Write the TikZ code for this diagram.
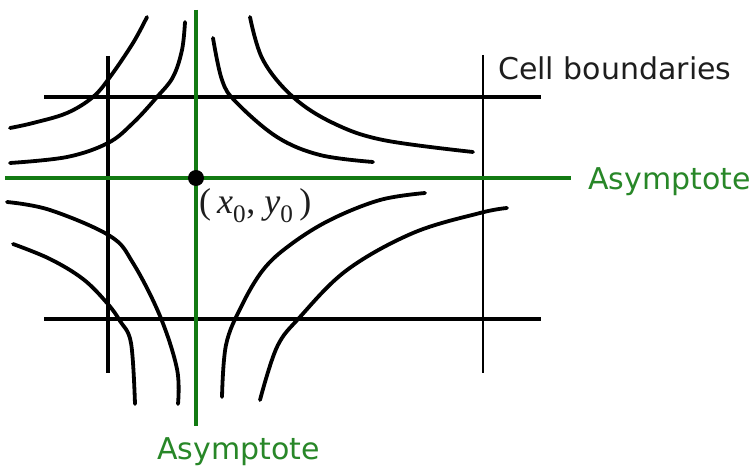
\documentclass[tikz,border=0pt]{standalone}
\usepackage{fontspec}
\newfontfamily\labelfont{DejaVu Sans}
\newfontfamily\seriffont{Liberation Serif}
\definecolor{asymgreen}{RGB}{18,122,18}
\definecolor{textgreen}{RGB}{40,135,40}
\definecolor{txtgray}{RGB}{30,30,30}
\begin{document}
\begin{tikzpicture}[x=1pt,y=-1pt,
  cellline/.style={line width=4.2pt, black},
  thincell/.style={line width=1.8pt, black},
  asym/.style={line width=4.4pt, asymgreen},
  hyp/.style={line width=3.8pt, black, line join=round, line cap=round},
  lbl/.style={inner sep=0pt, font=\labelfont\fontsize{30}{36}\selectfont},
]
\useasboundingbox (0,0) rectangle (756,473);
\fill[white] (0,0) rectangle (756,473);

% cell boundaries
\coordinate (h1w) at (44,97);  \coordinate (h1e) at (541,97);
\coordinate (h2w) at (44,319); \coordinate (h2e) at (541,319);
\coordinate (v1n) at (108,56); \coordinate (v1s) at (108,373);
\coordinate (v2n) at (483,55); \coordinate (v2s) at (483,373);
\draw[cellline] (h1w) -- (h1e);
\draw[cellline] (h2w) -- (h2e);
\draw[line width=3.6pt] (v1n) -- (v1s);
\draw[thincell] (v2n) -- (v2s);

% hyperbola branches
\draw[hyp] plot[smooth, tension=0.6] coordinates {(147,17) (133,43) (110,77) (93,97) (67,113) (33,123) (10,128)};
\draw[hyp] plot[smooth, tension=0.6] coordinates {(185,22) (182,50) (173,77) (157,97) (133,123) (108,143) (67,157) (10,163)};
\draw[hyp] plot[smooth, tension=0.6] coordinates {(213,38) (222,80) (236,102) (277,137) (320,155) (373,162)};
\draw[hyp] plot[smooth, tension=0.6] coordinates {(250,17) (263,60) (293,97) (333,123) (383,140) (473,152)};
\draw[hyp] plot[smooth, tension=0.6] coordinates {(7,202) (50,210) (110,236) (133,263) (160,316) (177,369) (178,404)};
\draw[hyp] plot[smooth, tension=0.6] coordinates {(13,244) (50,259) (83,279) (107,303) (120,321) (131,343) (135,404)};
\draw[hyp] plot[smooth, tension=0.6] coordinates {(425,193) (380,200) (330,220) (290,245) (263,270) (241,307) (226,345) (222,397)};
\draw[hyp] plot[smooth, tension=0.6] coordinates {(507,208) (480,213) (413,233) (347,270) (300,317) (277,347) (260,400)};

% asymptotes
\coordinate (gvn) at (196,10);  \coordinate (gvs) at (196,426);
\coordinate (ghw) at (5,178);   \coordinate (ghe) at (571,178);
\draw[asym] (gvn) -- (gvs);
\draw[asym] (ghw) -- (ghe);

% centre point
\node[circle, fill=black, inner sep=0pt, minimum size=16pt] (x0) at (196,178) {};
\node[inner sep=0pt, anchor=base west, font=\seriffont\fontsize{36}{40}\selectfont, text=txtgray] (x0lbl) at (199,214)
  {(\,\textit{x}\textsubscript{0}, \textit{y}\textsubscript{0}\,)};

% labels
\node[lbl, anchor=base west, text=txtgray] (cell) at (498,80) {Cell boundaries};
\node[lbl, anchor=base west, text=textgreen] (asymr) at (588,190) {Asymptote};
\node[lbl, anchor=base west, text=textgreen] (asymb) at (157,460) {Asymptote};
\end{tikzpicture}
\end{document}
